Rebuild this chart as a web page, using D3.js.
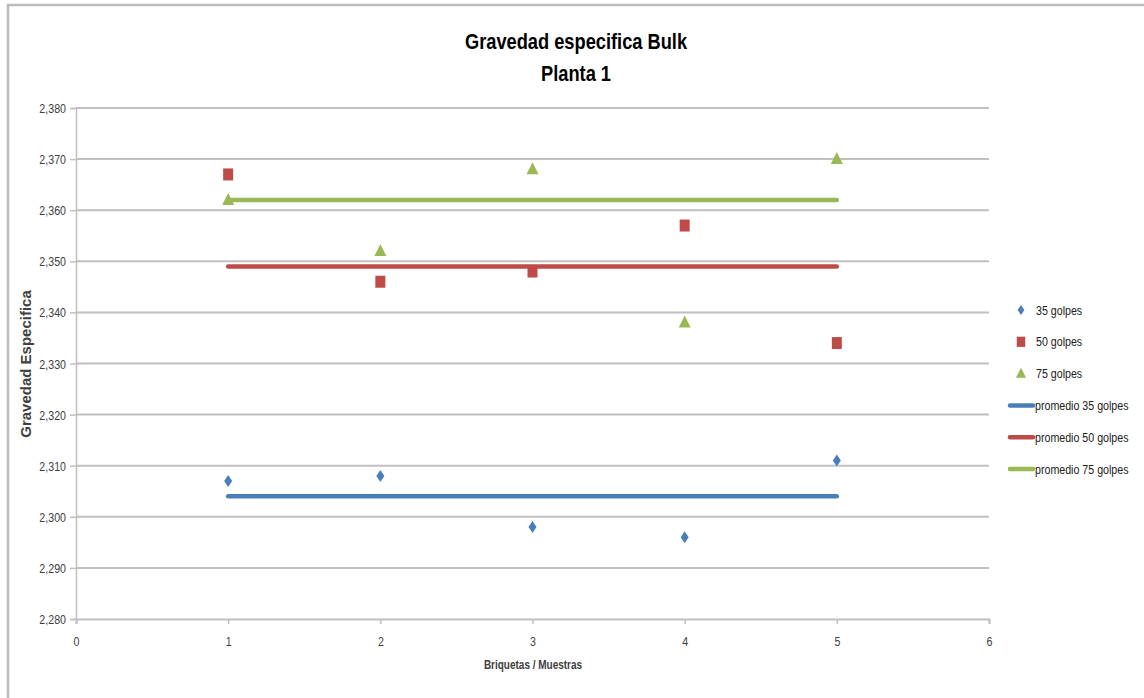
<!DOCTYPE html>
<html>
<head>
<meta charset="utf-8">
<script src="https://cdn.jsdelivr.net/npm/d3@7"></script>
<style>
  html, body { margin: 0; padding: 0; background: #fff; }
  svg { display: block; font-family: "Liberation Sans", Arial, sans-serif; }
</style>
</head>
<body>
<svg id="chart" width="1144" height="698"></svg>
<script>
// Muestras (briquetas)
const muestras = [1, 2, 3, 4, 5];
const golpes35 = [2.307, 2.308, 2.298, 2.296, 2.311];
const golpes50 = [2.367, 2.346, 2.348, 2.357, 2.334];
const golpes75 = [2.362, 2.352, 2.368, 2.338, 2.370];
const promedio35 = [2.304, 2.304];
const promedio50 = [2.349, 2.349];
const promedio75 = [2.362, 2.362];
const promedioX = [1, 5];
const xTicks = [0, 1, 2, 3, 4, 5, 6];
const yTicks = [2.28, 2.29, 2.30, 2.31, 2.32, 2.33, 2.34, 2.35, 2.36, 2.37, 2.38];
const seriesNames = ["35 golpes", "50 golpes", "75 golpes", "promedio 35 golpes", "promedio 50 golpes", "promedio 75 golpes"];

const colors = { blue: "#4a7ebb", red: "#be4b48", green: "#98b954" };
const gridColor = "#c0c0c0";
const narrow = 0.84; // horizontal squeeze for a condensed typeface look

const svg = d3.select("#chart");

// Condensed text helper
function ctext(parent, px, py, str, opts = {}) {
  return parent.append("text")
    .attr("transform", `translate(${px},${py}) scale(${opts.sx ?? narrow},1)`)
    .attr("text-anchor", opts.anchor ?? "start")
    .attr("font-size", opts.size ?? 12)
    .attr("font-weight", opts.weight ?? "normal")
    .attr("fill", opts.fill ?? "#404040")
    .text(str);
}

// Outer frame of the chart
svg.append("path")
  .attr("d", "M8,700 L8,5 L1146,5")
  .attr("fill", "none").attr("stroke", "#bcbcbc").attr("stroke-width", 2.5);

const x = d3.scaleLinear().domain([0, 6]).range([76, 989]);
const y = d3.scaleLinear().domain([2.28, 2.38]).range([619, 108]);
const fmt = v => d3.format(".3f")(v).replace(".", ",");

// Horizontal gridlines
svg.append("g").selectAll("line").data(yTicks.slice(1)).join("line")
  .attr("x1", x(0)).attr("x2", x(6))
  .attr("y1", d => y(d)).attr("y2", d => y(d))
  .attr("stroke", gridColor).attr("stroke-width", 2);

// Y axis
const yAxis = svg.append("g").attr("transform", `translate(${x(0)},0)`)
  .call(d3.axisLeft(y).tickValues(yTicks).tickFormat("").tickSize(6));
yAxis.select(".domain").attr("stroke", gridColor).attr("stroke-width", 1.5);
yAxis.selectAll(".tick line").attr("stroke", gridColor).attr("stroke-width", 1.5);
yAxis.selectAll(".tick").each(function (d) {
  ctext(d3.select(this), -10, 4.5, fmt(d), { anchor: "end", size: 13, sx: 0.82 });
});

// X axis
const xAxis = svg.append("g").attr("transform", `translate(0,${y(2.28)})`)
  .call(d3.axisBottom(x).tickValues(xTicks).tickFormat("").tickSize(5));
xAxis.select(".domain").attr("stroke", gridColor).attr("stroke-width", 2);
xAxis.selectAll(".tick line").attr("stroke", gridColor).attr("stroke-width", 1.5);
xAxis.selectAll(".tick").each(function (d) {
  ctext(d3.select(this), 0, 27, String(d), { anchor: "middle", size: 13, sx: 0.82 });
});

// Average lines
const line = d3.line().x(d => x(d[0])).y(d => y(d[1]));
[[promedio35, colors.blue], [promedio50, colors.red], [promedio75, colors.green]].forEach(([vals, c]) => {
  svg.append("path")
    .datum(promedioX.map((m, i) => [m, vals[i]]))
    .attr("d", line)
    .attr("fill", "none").attr("stroke", c).attr("stroke-width", 4.5).attr("stroke-linecap", "round");
});

// Point markers
const diamond = "M0,-6 L4,0 L0,6 L-4,0 Z";
const square = "M-5,-6 L5,-6 L5,6 L-5,6 Z";
const triangle = "M0,-7 L6,5 L-6,5 Z";

function drawPoints(vals, path, color) {
  svg.append("g").selectAll("path").data(vals).join("path")
    .attr("transform", (d, i) => `translate(${x(muestras[i])},${y(d)})`)
    .attr("d", path).attr("fill", color);
}
drawPoints(golpes35, diamond, colors.blue);
drawPoints(golpes50, square, colors.red);
drawPoints(golpes75, triangle, colors.green);

// Title
ctext(svg, 576, 49, "Gravedad especifica Bulk", { anchor: "middle", size: 22, weight: "bold", fill: "#000", sx: 0.83 });
ctext(svg, 576, 81, "Planta 1", { anchor: "middle", size: 22, weight: "bold", fill: "#000", sx: 0.83 });

// Axis titles
ctext(svg, 533, 669, "Briquetas / Muestras", { anchor: "middle", size: 12.5, weight: "bold", sx: 0.8 });
svg.append("text").attr("transform", "translate(31,364) rotate(-90)").attr("text-anchor", "middle")
  .attr("font-size", 15).attr("font-weight", "bold").attr("fill", "#404040")
  .text("Gravedad Especifica");

// Legend
const legend = svg.append("g");
const legendRows = [
  { kind: "point", path: diamond, color: colors.blue },
  { kind: "point", path: square, color: colors.red },
  { kind: "point", path: triangle, color: colors.green },
  { kind: "line", color: colors.blue },
  { kind: "line", color: colors.red },
  { kind: "line", color: colors.green }
];
legendRows.forEach((r, i) => {
  const ly = 310 + i * 31.8;
  if (r.kind === "point") {
    legend.append("path").attr("transform", `translate(1021,${ly}) scale(0.85)`).attr("d", r.path).attr("fill", r.color);
    ctext(legend, 1036, ly + 4.5, seriesNames[i], { size: 13, fill: "#202020", sx: 0.82 });
  } else {
    legend.append("line").attr("x1", 1010).attr("x2", 1033).attr("y1", ly).attr("y2", ly)
      .attr("stroke", r.color).attr("stroke-width", 4.5).attr("stroke-linecap", "round");
    ctext(legend, 1035, ly + 4.5, seriesNames[i], { size: 13, fill: "#202020", sx: 0.82 });
  }
});
</script>
</body>
</html>
